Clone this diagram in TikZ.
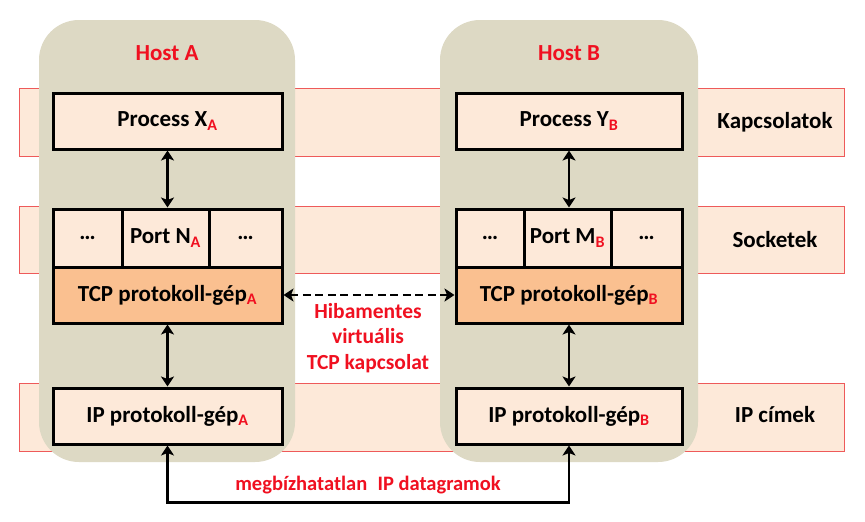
\documentclass[tikz,border=0pt]{standalone}
\usepackage{fontspec}
\setmainfont{Carlito}
\usetikzlibrary{arrows.meta}
\definecolor{hostc}{HTML}{DDD9C4}
\definecolor{bandc}{HTML}{FDE9D9}
\definecolor{bandline}{HTML}{EE5A5A}
\definecolor{tcpc}{HTML}{FAC090}
\definecolor{redt}{HTML}{F01020}
\newcommand{\sbr}[1]{\textsubscript{\textcolor{redt}{#1}}}
\begin{document}
\begin{tikzpicture}[x=1pt,y=-1pt,
  band/.style={draw=bandline, fill=bandc, line width=0.9pt},
  host/.style={fill=hostc, rounded corners=40pt, inner sep=0pt},
  box/.style={draw=black, fill=bandc, line width=3pt, inner sep=0pt, font=\fontsize{23}{27}\selectfont\bfseries},
  tcpbox/.style={box, fill=tcpc},
  lbl/.style={font=\fontsize{23}{27}\selectfont\bfseries, text=black},
  redlbl/.style={font=\fontsize{23}{27}\selectfont\bfseries, text=redt},
  notelbl/.style={font=\fontsize{21.5}{25.5}\selectfont\bfseries, text=redt, align=center},
  arr/.style={line width=2.6pt, {Stealth[length=10pt,width=13pt,inset=2.5pt]}-{Stealth[length=10pt,width=13pt,inset=2.5pt]}},
  darr/.style={arr, dash pattern=on 8pt off 4.5pt}
]
\useasboundingbox (0,0) rectangle (865,522);
% bands
\fill[white] (0,0) rectangle (865,522);
\node[band, minimum width=825pt, minimum height=68pt, inner sep=0pt] (band1) at (431.5,122) {};
\node[band, minimum width=825pt, minimum height=67pt, inner sep=0pt] (band2) at (431.5,239.5) {};
\node[band, minimum width=825pt, minimum height=68pt, inner sep=0pt] (band3) at (431.5,417) {};
% hosts
\node[host, minimum width=256pt, minimum height=442pt] (hostA) at (167,241) {};
\node[host, minimum width=258pt, minimum height=442pt] (hostB) at (569,241) {};
\node[redlbl] (hA) at (167,53) {Host A};
\node[redlbl] (hB) at (569,53) {Host B};
% process boxes
\node[box, minimum width=229pt, minimum height=56pt] (pX) at (167.5,121) {Process X\sbr{A}};
\node[box, minimum width=226pt, minimum height=56pt] (pY) at (569,121) {Process Y\sbr{B}};
% port rows
\node[box, minimum width=69pt, minimum height=58pt] (dA1) at (87.5,238) {…};
\node[box, minimum width=87pt, minimum height=58pt] (pN) at (165.5,238) {Port N\sbr{A}};
\node[box, minimum width=73pt, minimum height=58pt] (dA2) at (245.5,238) {…};
\node[box, minimum width=68pt, minimum height=58pt] (dB1) at (490,238) {…};
\node[box, minimum width=87pt, minimum height=58pt] (pM) at (567.5,238) {Port M\sbr{B}};
\node[box, minimum width=71pt, minimum height=58pt] (dB2) at (646.5,238) {…};
% tcp boxes
\node[tcpbox, minimum width=229pt, minimum height=56pt] (tA) at (167.5,295) {TCP protokoll-gép\sbr{A}};
\node[tcpbox, minimum width=226pt, minimum height=56pt] (tB) at (569,295) {TCP protokoll-gép\sbr{B}};
% ip boxes
\node[box, minimum width=229pt, minimum height=56pt] (iA) at (167.5,416) {IP protokoll-gép\sbr{A}};
\node[box, minimum width=226pt, minimum height=56pt] (iB) at (569,416) {IP protokoll-gép\sbr{B}};
% band labels
\node[lbl] (k1) at (775,122) {Kapcsolatok};
\node[lbl] (k2) at (775,240) {Socketek};
\node[lbl] (k3) at (775,415) {IP címek};
% connectors
\draw[arr] (pX.south) -- (pX.south |- pN.north);
\draw[arr] (pY.south) -- (pY.south |- pM.north);
\draw[arr] (tA.south) -- (iA.north);
\draw[arr] (tB.south) -- (iB.north);
\draw[darr] (tA.east) -- (tB.west);
\draw[arr] (iA.south) -- ++(0,57) coordinate (bl) -| (iB.south);
\node[notelbl] (note) at (368,338) {Hibamentes\\virtuális\\TCP kapcsolat};
\node[notelbl, font=\fontsize{20.5}{24}\selectfont\bfseries] (dg) at (368,485) {megbízhatatlan\hspace{0.5em}IP datagramok};
\end{tikzpicture}
\end{document}
